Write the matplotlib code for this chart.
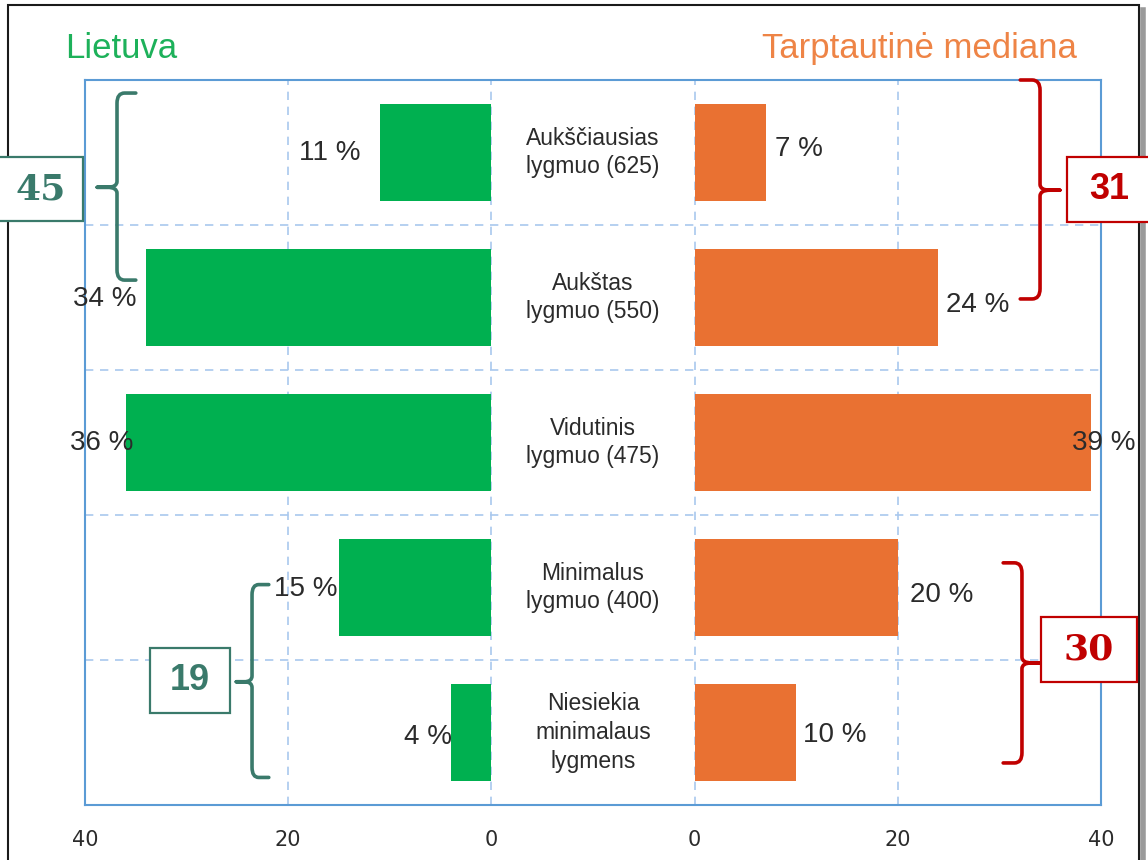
import matplotlib
matplotlib.use("Agg")
import matplotlib.pyplot as plt
from matplotlib.patches import Rectangle, PathPatch
from matplotlib.path import Path
from matplotlib.lines import Line2D

plt.rcParams['font.family'] = ['Liberation Sans', 'DejaVu Sans']

# data
levels = ["Aukščiausias\nlygmuo (625)", "Aukštas\nlygmuo (550)", "Vidutinis\nlygmuo (475)",
          "Minimalus\nlygmuo (400)", "Niesiekia\nminimalaus\nlygmens"]
lietuva = [11, 34, 36, 15, 4]
mediana = [7, 24, 39, 20, 10]
lt_sums = [45, 19]      # top two, bottom two
med_sums = [31, 30]
tick_vals = [40, 20, 0, 0, 20, 40]

# label nudges in pixels (dx, dy)
lt_nudge = [(-19, 0), (-9, 1), (8, 1), (-2, 2), (1, 4)]
med_nudge = [(9, -3), (8, 8), (-19, 1), (12, 8), (7, 2)]

W, H = 1148, 860
GAP = 20
green = '#00B050'
orange = '#E97132'
teal = '#3A7A6B'
red = '#C00000'
txt = '#2b2b2b'

fig = plt.figure(figsize=(W / 100, H / 100), dpi=100)
ax = fig.add_axes([85 / W, 1 - 805 / H, (1101 - 85) / W, (805 - 80) / H])

y = list(range(len(levels)))
ax.barh(y, [-v for v in lietuva], height=0.67, color=green, zorder=3)
ax.barh(y, mediana, left=GAP, height=0.67, color=orange, zorder=3)

ax.set_xlim(-40, 40 + GAP)
ax.set_ylim(len(levels) - 0.5, -0.5)

for gx in [-20, 0, GAP, GAP + 20]:
    ax.axvline(gx, color='#A9C8EE', lw=1.2, ls=(0, (5, 4)), zorder=1)
for gy in [0.5, 1.5, 2.5, 3.5]:
    ax.axhline(gy, color='#A9C8EE', lw=1.2, ls=(0, (5, 4)), zorder=1)

ax.set_xticks([-40, -20, 0, GAP, GAP + 20, GAP + 40])
ax.set_xticklabels([str(t) for t in tick_vals], family='DejaVu Sans')
ax.set_yticks([])
ax.tick_params(axis='x', length=0, pad=18, labelsize=15, labelcolor=txt)
for s in ax.spines.values():
    s.set_color('#5B9BD5')
    s.set_linewidth(1.5)

for i, lab in enumerate(levels):
    ax.text(GAP / 2, i, lab, ha='center', va='center', fontsize=16.5, color=txt,
            linespacing=1.33)

for i, v in enumerate(lietuva):
    dx, dy = lt_nudge[i]
    ax.annotate(f"{v} %", (-v, i), xytext=(dx * 0.72, -dy * 0.72), textcoords='offset points',
                ha='right', va='center', fontsize=20, color=txt, annotation_clip=False, zorder=4)
for i, v in enumerate(mediana):
    dx, dy = med_nudge[i]
    ax.annotate(f"{v} %", (GAP + v, i), xytext=(dx * 0.72, -dy * 0.72), textcoords='offset points',
                ha='left', va='center', fontsize=20, color=txt, annotation_clip=False, zorder=4)


def brace(x, y0, y1, ym, hook, tip, color):
    ry, rt = 0.07, 0.04
    verts = [(x + hook, y0), (x + hook * 0.4, y0), (x, y0), (x, y0 + ry),
             (x, ym - rt), (x, ym), (x + tip * 0.5, ym), (x + tip, ym),
             (x + tip * 0.5, ym), (x, ym), (x, ym + rt),
             (x, y1 - ry), (x, y1), (x + hook * 0.4, y1), (x + hook, y1)]
    codes = [Path.MOVETO, Path.LINETO, Path.CURVE3, Path.CURVE3,
             Path.LINETO, Path.CURVE3, Path.CURVE3, Path.LINETO,
             Path.LINETO, Path.CURVE3, Path.CURVE3,
             Path.LINETO, Path.CURVE3, Path.CURVE3, Path.LINETO]
    ax.add_patch(PathPatch(Path(verts, codes), fill=False, edgecolor=color, lw=2.6,
                           capstyle='round', joinstyle='round', clip_on=False, zorder=5))


brace(-36.85, -0.41, 0.88, 0.24, 1.85, -1.95, teal)
brace(-23.56, 2.98, 4.31, 3.65, 1.65, -1.55, teal)
brace(54.0, -0.50, 1.01, 0.26, -1.95, 1.95, red)
brace(52.22, 2.83, 4.21, 3.52, -1.85, 1.95, red)


def box(x0, y0, x1, y1, value, color, family):
    fig.add_artist(Rectangle((x0 / W, 1 - y1 / H), (x1 - x0) / W, (y1 - y0) / H,
                             transform=fig.transFigure, facecolor='white', edgecolor=color,
                             lw=1.6, zorder=6))
    fig.text((x0 + x1) / 2 / W, 1 - (y0 + y1) / 2 / H, str(value), ha='center', va='center',
             fontsize=26, fontweight='bold', color=color, family=family, zorder=7)


box(-2, 157, 83, 221, lt_sums[0], teal, 'DejaVu Serif')
box(150, 648, 230, 713, lt_sums[1], teal, 'Liberation Sans')
box(1067, 157, 1152, 222, med_sums[0], red, 'Liberation Sans')
box(1041, 617, 1137, 682, med_sums[1], red, 'DejaVu Serif')

# outer frame with shadow
fig.add_artist(Line2D([1143 / W, 1143 / W], [1 - 10 / H, 0], transform=fig.transFigure,
                      color='#9a9a9a', lw=4, zorder=2))
fig.add_artist(Rectangle((8 / W, -0.05), (1139 - 8) / W, 1.05 - 5 / H, transform=fig.transFigure,
                         fill=False, edgecolor='#1a1a1a', lw=1.5, zorder=3))

fig.text(65 / W, 1 - 58 / H, "Lietuva", ha='left', va='baseline', fontsize=25, color='#1DB15A')
fig.text(1077 / W, 1 - 58 / H, "Tarptautinė mediana", ha='right', va='baseline', fontsize=25,
         color='#EE8446')

fig.savefig("out.png", dpi=100)
